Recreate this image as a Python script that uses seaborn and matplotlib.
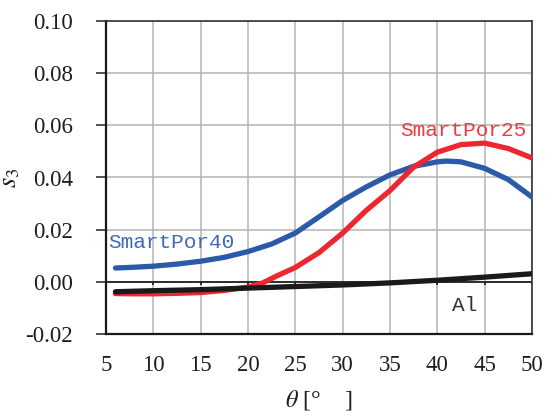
import numpy as np
import pandas as pd
import matplotlib
matplotlib.use("Agg")
import matplotlib.pyplot as plt
import seaborn as sns

# ---- data ----
theta_40 = [6, 8, 10, 12.5, 15, 17.5, 20, 22.5, 25, 27.5, 30, 32.5, 35, 37.5, 40, 41, 42.5, 45, 47.5, 50]
s3_40 = [0.0053, 0.0056, 0.0060, 0.0068, 0.0079, 0.0094, 0.0116, 0.0145, 0.0187, 0.0249, 0.0312,
         0.0364, 0.0410, 0.0443, 0.0460, 0.0463, 0.0460, 0.0435, 0.0392, 0.0325]

theta_25 = [6, 8, 10, 12.5, 15, 17.5, 20, 21.5, 23, 25, 27.5, 30, 32.5, 35, 37.5, 40, 42.5, 45, 47.5, 50]
s3_25 = [-0.0045, -0.0046, -0.0046, -0.0044, -0.0041, -0.0033, -0.0020, -0.0005, 0.0022, 0.0055,
         0.0112, 0.0187, 0.0274, 0.0350, 0.0440, 0.0497, 0.0526, 0.0532, 0.0511, 0.0475]

theta_al = [6, 10, 15, 20, 25, 30, 35, 40, 45, 50]
s3_al = [-0.0038, -0.0034, -0.0030, -0.0024, -0.0018, -0.0012, -0.0004, 0.0006, 0.0018, 0.0031]

x_ticks = [5, 10, 15, 20, 25, 30, 35, 40, 45, 50]
y_ticks = [-0.02, 0.00, 0.02, 0.04, 0.06, 0.08, 0.10]

series_names = ["SmartPor40", "SmartPor25", "Al"]
colors = {"SmartPor40": "#2b5aa8", "SmartPor25": "#ec2730", "Al": "#1a1a1a"}

df = pd.concat([
    pd.DataFrame({"theta": theta_40, "s3": s3_40, "series": "SmartPor40"}),
    pd.DataFrame({"theta": theta_25, "s3": s3_25, "series": "SmartPor25"}),
    pd.DataFrame({"theta": theta_al, "s3": s3_al, "series": "Al"}),
])

sns.set_style("white")
plt.rcParams["font.family"] = ["Liberation Serif", "DejaVu Serif"]
plt.rcParams["mathtext.fontset"] = "stix"

fig = plt.figure(figsize=(5.52, 4.19), dpi=100)
ax = fig.add_axes([106 / 552, 1 - 334 / 419, (532 - 106) / 552, (334 - 21) / 419])

ax.grid(True, color="#b4b4b4", linewidth=1.1)
ax.set_axisbelow(True)

for name in series_names:
    sub = df[df["series"] == name]
    sns.lineplot(data=sub, x="theta", y="s3", color=colors[name], linewidth=3.8,
                 ax=ax, legend=False, solid_capstyle="round", solid_joinstyle="round", zorder=3)

ax.set_xlim(5, 50)
ax.set_ylim(-0.02, 0.10)
ax.set_xticks(x_ticks)
ax.set_yticks(y_ticks)
ax.set_xticklabels([str(v) for v in x_ticks], fontsize=16.5)
ax.set_yticklabels([f"{v:.2f}" for v in y_ticks], fontsize=16.5)

ax.tick_params(axis="y", direction="out", length=7, width=1.1, color="#222222", pad=17,
               labelcolor="#1e1e1e", left=True)
ax.tick_params(axis="x", length=0, pad=15, labelcolor="#1e1e1e")

# zero axis with its downward tick marks
ax.axhline(0, color="#222222", linewidth=1.3, zorder=2)
ax.vlines(x_ticks, -0.0014, 0, color="#222222", linewidth=1.3, zorder=2)

for side in ["left", "bottom"]:
    ax.spines[side].set_color("#1a1a1a")
    ax.spines[side].set_linewidth(1.6)
for side in ["top", "right"]:
    ax.spines[side].set_color("#333333")
    ax.spines[side].set_linewidth(1.2)

ax.set_xlabel(r"$\theta$ [°    ]", fontsize=17.5, color="#1e1e1e", labelpad=9)
ax.set_ylabel(r"$s_3$", fontsize=19, color="#1e1e1e", labelpad=2)

ax.text(5.2, 0.0151, "SmartPor40", color="#3f6ab5", fontsize=15.2,
        family="Liberation Mono", ha="left", va="center")
ax.text(49.4, 0.0580, "SmartPor25", color="#ee3a40", fontsize=15.2,
        family="Liberation Mono", ha="right", va="center")
ax.text(42.9, -0.0089, "Al", color="#333333", fontsize=15.2,
        family="Liberation Mono", ha="center", va="center")

fig.savefig("out.png", dpi=100)
